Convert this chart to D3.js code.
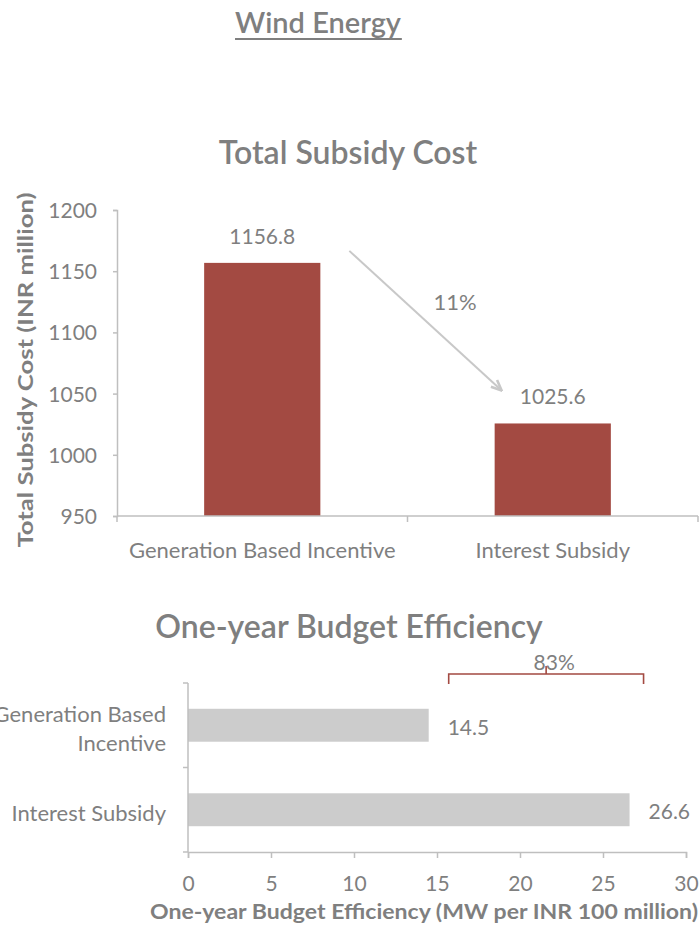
<!DOCTYPE html>
<html>
<head>
<meta charset="utf-8">
<script src="https://cdn.jsdelivr.net/npm/d3@7"></script>
<style>
	body { margin: 0; background: #fff; }
	text { font-family: Lato, "Open Sans", sans-serif; fill: #7f7f7f; }
</style>
</head>
<body>
<div id="chart"></div>
<script>
// data
let costCategories = ["Generation Based Incentive", "Interest Subsidy"];
let costValues = [1156.8, 1025.6];
let costTicks = [950, 1000, 1050, 1100, 1150, 1200];
let costChange = "11%";

let effCategories = [["Generation Based", "Incentive"], ["Interest Subsidy"]];
let effValues = [14.5, 26.6];
let effTicks = [0, 5, 10, 15, 20, 25, 30];
let effChange = "83%";

let width = 700, height = 925;
let svg = d3.select("#chart").append("svg")
	.attr("width", width)
	.attr("height", height);

let defs = svg.append("defs");
defs.append("marker")
	.attr("id", "arrowhead")
	.attr("viewBox", "0 0 10 10")
	.attr("refX", 9).attr("refY", 5)
	.attr("markerWidth", 13).attr("markerHeight", 13)
	.attr("markerUnits", "userSpaceOnUse")
	.attr("orient", "auto")
	.append("path")
	.attr("d", "M1,1.5 L9,5 L1,8.5")
	.attr("fill", "none")
	.attr("stroke", "#c8c8c8")
	.attr("stroke-width", 2);

// page title
let wind = svg.append("text")
	.attr("x", 318).attr("y", 33)
	.attr("text-anchor", "middle")
	.style("font-size", "29px")
	.style("font-weight", 600)
	.text("Wind Energy");
let wb = wind.node().getBBox();
svg.append("line")
	.attr("x1", wb.x).attr("x2", wb.x + wb.width)
	.attr("y1", 39).attr("y2", 39)
	.attr("stroke", "#7f7f7f").attr("stroke-width", 2);

// ---- top chart: total subsidy cost ----
let m1 = {left: 117, top: 210, right: 698, bottom: 516};
svg.append("text")
	.attr("x", 348).attr("y", 164)
	.attr("text-anchor", "middle")
	.style("font-size", "32px")
	.style("font-weight", 600)
	.text("Total Subsidy Cost");

let x1 = d3.scaleBand()
	.domain(costCategories)
	.range([m1.left, m1.right])
	.paddingInner(0.6).paddingOuter(0.3);
let band1 = d3.scaleBand().domain(costCategories).range([m1.left, m1.right]);
let y1 = d3.scaleLinear()
	.domain([950, 1200])
	.range([m1.bottom, m1.top]);

let g1 = svg.append("g");
g1.append("g")
	.attr("transform", "translate(" + m1.left + ",0)")
	.call(d3.axisLeft(y1).tickValues(costTicks).tickFormat(d3.format("d")).tickSize(4).tickPadding(16))
	.call(g => {
		g.select(".domain").attr("stroke", "#bfbfbf").attr("stroke-width", 1.5);
		g.selectAll(".tick line").attr("stroke", "#bfbfbf").attr("stroke-width", 1.5);
		g.selectAll(".tick text").style("font-size", "21px").attr("fill", "#7f7f7f").attr("dy", "0.36em");
	});

g1.selectAll(".bar")
	.data(costValues)
	.enter().append("rect")
	.attr("class", "bar")
	.attr("x", (d, i) => x1(costCategories[i]))
	.attr("width", x1.bandwidth())
	.attr("y", d => y1(d))
	.attr("height", d => m1.bottom - y1(d))
	.attr("fill", "#a34a42");

// x axis with ticks at category boundaries
let xb = g1.append("g");
xb.append("line")
	.attr("x1", m1.left).attr("x2", m1.right)
	.attr("y1", m1.bottom).attr("y2", m1.bottom)
	.attr("stroke", "#bfbfbf").attr("stroke-width", 1.5);
xb.selectAll(".xt")
	.data(costCategories.concat([null]))
	.enter().append("line")
	.attr("x1", (d, i) => m1.left + i * band1.bandwidth())
	.attr("x2", (d, i) => m1.left + i * band1.bandwidth())
	.attr("y1", m1.bottom).attr("y2", m1.bottom + 6)
	.attr("stroke", "#bfbfbf").attr("stroke-width", 1.5);
xb.selectAll(".xl")
	.data(costCategories)
	.enter().append("text")
	.attr("x", d => band1(d) + band1.bandwidth() / 2)
	.attr("y", 558)
	.attr("text-anchor", "middle")
	.style("font-size", "22px")
	.text(d => d);

g1.selectAll(".val")
	.data(costValues)
	.enter().append("text")
	.attr("x", (d, i) => x1(costCategories[i]) + x1.bandwidth() / 2)
	.attr("y", d => y1(d) - 19)
	.attr("text-anchor", "middle")
	.style("font-size", "21px")
	.text(d => d.toFixed(1));

svg.append("text")
	.attr("transform", "translate(33,370) rotate(-90)")
	.attr("text-anchor", "middle")
	.style("font-size", "21px")
	.style("font-weight", 700)
	.attr("textLength", 355)
	.attr("lengthAdjust", "spacingAndGlyphs")
	.text("Total Subsidy Cost (INR million)");

// change arrow
svg.append("line")
	.attr("x1", x1(costCategories[0]) + x1.bandwidth() + 29)
	.attr("y1", y1(costValues[0]) - 12)
	.attr("x2", x1(costCategories[1]) + 7)
	.attr("y2", y1(costValues[1]) - 33)
	.attr("stroke", "#c8c8c8")
	.attr("stroke-width", 2)
	.attr("marker-end", "url(#arrowhead)");
svg.append("text")
	.attr("x", 455).attr("y", 310)
	.attr("text-anchor", "middle")
	.style("font-size", "22px")
	.text(costChange);

// ---- bottom chart: one-year budget efficiency ----
let m2 = {left: 188, top: 683, right: 686, bottom: 852};
svg.append("text")
	.attr("x", 349).attr("y", 638)
	.attr("text-anchor", "middle")
	.style("font-size", "32px")
	.style("font-weight", 600)
	.text("One-year Budget Efficiency");

let x2 = d3.scaleLinear().domain([0, 30]).range([m2.left, m2.right]);
let y2 = d3.scaleBand()
	.domain(d3.range(effValues.length))
	.range([m2.top, m2.bottom])
	.paddingInner(0.61).paddingOuter(0.305);
let band2 = d3.scaleBand().domain(d3.range(effValues.length)).range([m2.top, m2.bottom]);

let g2 = svg.append("g");
g2.selectAll(".hbar")
	.data(effValues)
	.enter().append("rect")
	.attr("class", "hbar")
	.attr("x", m2.left)
	.attr("y", (d, i) => y2(i))
	.attr("width", d => x2(d) - m2.left)
	.attr("height", y2.bandwidth())
	.attr("fill", "#cccccc");

g2.append("g")
	.attr("transform", "translate(0," + m2.bottom + ")")
	.call(d3.axisBottom(x2).tickValues(effTicks).tickSize(6).tickPadding(18))
	.call(g => {
		g.select(".domain").attr("stroke", "#bfbfbf").attr("stroke-width", 1.5);
		g.selectAll(".tick line").attr("stroke", "#bfbfbf").attr("stroke-width", 1.5);
		g.selectAll(".tick text").style("font-size", "21px").attr("fill", "#7f7f7f");
	});

let yb = g2.append("g");
yb.append("line")
	.attr("x1", m2.left).attr("x2", m2.left)
	.attr("y1", m2.top).attr("y2", m2.bottom)
	.attr("stroke", "#bfbfbf").attr("stroke-width", 1.5);
yb.selectAll(".yt")
	.data(d3.range(effValues.length + 1))
	.enter().append("line")
	.attr("x1", m2.left - 5).attr("x2", m2.left)
	.attr("y1", i => m2.top + i * band2.bandwidth())
	.attr("y2", i => m2.top + i * band2.bandwidth())
	.attr("stroke", "#bfbfbf").attr("stroke-width", 1.5);

let yl = yb.selectAll(".yl")
	.data(effCategories)
	.enter().append("text")
	.attr("text-anchor", "end")
	.style("font-size", "22px")
	.attr("transform", (d, i) => "translate(166," + (band2(i) + band2.bandwidth() / 2 + 4) + ")");
yl.selectAll("tspan")
	.data(d => d.map((t, k) => ({t: t, k: k, n: d.length})))
	.enter().append("tspan")
	.attr("x", 0)
	.attr("y", d => (d.k - (d.n - 1) / 2) * 29)
	.attr("dy", "0.35em")
	.text(d => d.t);

g2.selectAll(".hval")
	.data(effValues)
	.enter().append("text")
	.attr("x", d => x2(d) + 19)
	.attr("y", (d, i) => y2(i) + y2.bandwidth() / 2 + 2)
	.attr("dy", "0.35em")
	.style("font-size", "21px")
	.text(d => d.toFixed(1));

svg.append("text")
	.attr("x", 424).attr("y", 919)
	.attr("text-anchor", "middle")
	.style("font-size", "21px")
	.style("font-weight", 700)
	.attr("textLength", 548)
	.attr("lengthAdjust", "spacingAndGlyphs")
	.text("One-year Budget Efficiency (MW per INR 100 million)");

// bracket for the change
let bx0 = x2(effValues[0]) + 20, bx1 = x2(effValues[1]) + 14, by = 674;
let bm = (bx0 + bx1) / 2;
svg.append("path")
	.attr("d", "M" + bx0 + "," + (by + 10) + " V" + by + " H" + bx1 + " V" + (by + 10)
		+ " M" + bm + "," + by + " V" + (by - 8))
	.attr("fill", "none")
	.attr("stroke", "#a34a42")
	.attr("stroke-width", 1.6);
svg.append("text")
	.attr("x", bm + 8).attr("y", 670)
	.attr("text-anchor", "middle")
	.style("font-size", "21px")
	.text(effChange);
</script>
</body>
</html>
